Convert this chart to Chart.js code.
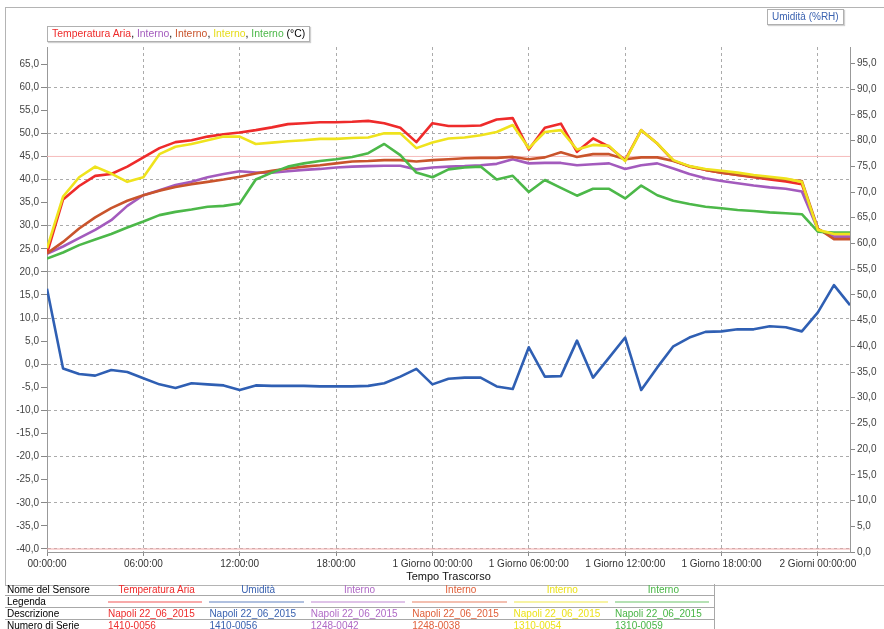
<!DOCTYPE html>
<html>
<head>
<meta charset="utf-8">
<script src="https://cdn.jsdelivr.net/npm/chart.js@4"></script>
<style>
  body { margin: 0; background: #fff; font-family: "Liberation Sans", Arial, sans-serif; }
  #wrap { position: relative; width: 884px; height: 629px; overflow: hidden; }
  #frame { position: absolute; left: 5px; top: 7px; width: 884px; height: 577px; border: 1px solid #b4b4b4; }
  #chart { position: absolute; left: 0; top: 0; }
  .box { position: absolute; background: #fff; border: 1px solid #b0b0b0; box-shadow: 1px 1px 1px #d0d0d0;
         font-size: 10px; line-height: 14px; padding: 0 4px; white-space: nowrap; }
  #info { position: absolute; left: 5px; top: 584px; border-collapse: collapse; font-size: 10px; }
  #info td { height: 11px; padding: 0 2px; border-bottom: 1px solid #a8a8a8; line-height: 11px; white-space: nowrap; }
  #info td.c { text-align: center; }
  #info tr td:last-child { border-right: 1px solid #a8a8a8; }
  .swatch { height: 2px; margin: 0 3px 0 0; opacity: 0.4; }
</style>
</head>
<body>
<div id="wrap">
  <div id="frame"></div>
  <canvas id="chart" width="884" height="585"></canvas>
  <div class="box" id="tempLegend" style="left:47px; top:26px; font-size:10.4px;"></div>
  <div class="box" style="left:767px; top:9px; color:#3a62b0;">Umidità (%RH)</div>
  <table id="info"></table>
</div>
<script>
// elapsed time in hours, one reading per hour
let hours = [0,1,2,3,4,5,6,7,8,9,10,11,12,13,14,15,16,17,18,19,20,21,22,23,24,
             25,26,27,28,29,30,31,32,33,34,35,36,37,38,39,40,41,42,43,44,45,46,47,48,49,50]

// temperatures (°C)
let tempAria = [24.0,35.7,38.6,40.8,41.2,42.8,44.8,46.8,48.1,48.5,
                49.3,49.8,50.2,50.7,51.3,52.0,52.2,52.4,52.4,52.5,
                52.7,52.2,51.2,48.1,52.2,51.6,51.6,51.7,53.0,53.3,
                46.5,51.2,52.1,46.0,48.9,47.1,44.2,50.7,47.8,44.1,
                42.8,42.1,41.5,41.0,40.5,40.0,39.6,39.0,29.2,27.6,27.6]
let interno0042 = [23.9,25.5,27.3,29.1,31.2,34.3,36.6,37.7,38.8,39.5,
                   40.5,41.2,41.8,41.5,41.5,41.8,42.1,42.3,42.6,42.8,
                   42.9,43.0,43.0,42.2,42.6,42.8,42.9,43.1,43.4,44.4,
                   43.5,43.6,43.6,43.1,43.3,43.5,42.3,43.1,43.5,42.4,
                   41.2,40.3,39.7,39.2,38.7,38.3,38.0,37.4,29.2,27.6,27.6]
let interno0038 = [24.0,26.5,29.4,31.8,33.8,35.4,36.6,37.6,38.4,39.0,
                   39.5,40.0,40.6,41.3,41.9,42.4,42.8,43.1,43.5,43.9,
                   44.0,44.2,44.2,43.9,44.2,44.4,44.6,44.7,44.7,44.9,
                   44.4,44.8,45.9,44.9,45.5,45.5,44.4,44.8,44.8,44.0,
                   42.9,42.1,41.5,41.0,40.6,40.3,40.0,39.7,29.4,27.1,27.1]
let interno0054 = [25.1,36.3,40.5,42.8,41.3,39.5,40.5,45.5,47.1,47.7,
                   48.5,49.3,49.3,47.7,48.0,48.3,48.5,48.8,48.8,49.0,
                   49.1,50.0,50.0,46.8,48.0,48.9,49.1,49.6,50.3,51.8,
                   46.8,50.3,50.7,46.5,47.5,47.3,44.0,50.7,47.8,44.2,
                   42.9,42.3,41.9,41.5,41.0,40.6,40.2,39.5,29.1,28.2,28.2]
let interno0059 = [22.9,24.2,25.8,27.0,28.2,29.6,30.9,32.3,33.0,33.5,
                   34.1,34.3,34.8,40.0,41.5,42.8,43.5,44.0,44.4,44.9,
                   45.7,47.7,45.3,41.5,40.5,42.2,42.6,42.8,40.0,40.8,
                   37.3,39.9,38.2,36.5,38.0,38.0,35.9,38.7,36.6,35.4,
                   34.7,34.1,33.8,33.4,33.2,32.9,32.7,32.5,28.7,28.5,28.5]

// relative humidity (%RH), right axis
let umidita = [51.2,35.7,34.6,34.3,35.4,35.0,33.8,32.6,31.9,32.8,
               32.6,32.4,31.5,32.4,32.3,32.3,32.3,32.2,32.2,32.2,
               32.3,32.8,34.1,35.6,32.6,33.7,33.9,33.9,32.2,31.7,
               39.8,34.1,34.2,41.1,33.9,37.8,41.7,31.5,35.9,40.0,
               41.7,42.8,42.9,43.3,43.3,43.9,43.7,42.9,46.6,51.9,48.0]

// alarm limits (°C)
let limitHigh = 45
let limitLow = -40

// x axis ticks
let xTickHours = [0, 6, 12, 18, 24, 30, 36, 42, 48]
let xTickLabels = ['00:00:00', '06:00:00', '12:00:00', '18:00:00', '1 Giorno 00:00:00',
                   '1 Giorno 06:00:00', '1 Giorno 12:00:00', '1 Giorno 18:00:00', '2 Giorni 00:00:00']

// sensor table below the chart
let sensorNames = ['Temperatura Aria', 'Umidità', 'Interno', 'Interno', 'Interno', 'Interno']
let descriptions = ['Napoli 22_06_2015', 'Napoli 22_06_2015', 'Napoli 22_06_2015',
                    'Napoli 22_06_2015', 'Napoli 22_06_2015', 'Napoli 22_06_2015']
let serials = ['1410-0056', '1410-0056', '1248-0042', '1248-0038', '1310-0054', '1310-0059']
let sensorColors = ['#ee2b2b', '#3a62b0', '#b06ac6', '#e0603a', '#ece21c', '#47b544']

Chart.defaults.font.family = '"Liberation Sans", Arial, sans-serif'
Chart.defaults.font.size = 10

// turn a series into {x, y} points
function points(ys) {
    return ys.map((y, i) => ({x: hours[i], y: y}))
}
function flat(v) {
    return [{x: hours[0], y: v}, {x: hours[hours.length - 1], y: v}]
}
function fmt(v) {
    return v.toFixed(1).replace('.', ',')
}
function everyFive(scale) {
    let ticks = []
    for (let v = Math.ceil(scale.min / 5) * 5; v <= scale.max; v += 5) ticks.push({value: v})
    scale.ticks = ticks
}

let line = (label, data, color, axis) => ({
    label: label, data: data, yAxisID: axis, borderColor: color,
    borderWidth: 2.6, pointRadius: 0, tension: 0, borderJoinStyle: 'round', fill: false
})

let chart = new Chart(document.getElementById('chart'), {
    type: 'line',
    data: {
        datasets: [
            line('Interno 1310-0054', points(interno0054), '#efe31d', 'y'),
            line('Interno 1310-0059', points(interno0059), '#4cb849', 'y'),
            line('Interno 1248-0038', points(interno0038), '#c9542c', 'y'),
            line('Interno 1248-0042', points(interno0042), '#a35bbd', 'y'),
            line('Temperatura Aria', points(tempAria), '#ee2b2b', 'y'),
            line('Umidità', points(umidita), '#2f5fb3', 'y2'),
            {data: flat(limitHigh), yAxisID: 'y', borderColor: '#f6bcbc', borderWidth: 1, pointRadius: 0},
            {data: flat(limitLow), yAxisID: 'y', borderColor: '#f2a8a8', borderWidth: 1, pointRadius: 0}
        ]
    },
    options: {
        responsive: false,
        animation: false,
        layout: {padding: {left: 5, top: 47, right: 0, bottom: 1}},
        plugins: {legend: {display: false}, tooltip: {enabled: false}},
        scales: {
            x: {
                type: 'linear', min: 0, max: 50,
                afterBuildTicks: s => { s.ticks = xTickHours.map(v => ({value: v})) },
                afterFit: s => { s.height = 32 },
                ticks: {
                    autoSkip: false, maxRotation: 0, padding: 2, color: '#333',
                    callback: v => xTickLabels[xTickHours.indexOf(v)]
                },
                grid: {color: '#ababab', tickLength: 4, tickColor: '#888'},
                border: {color: '#999', dash: [3, 3]},
                title: {display: true, text: 'Tempo Trascorso', color: '#111', font: {size: 11}, padding: 0}
            },
            y: {
                position: 'left', min: -40.65, max: 68.7,
                afterBuildTicks: everyFive,
                afterFit: s => { s.width = 42 },
                ticks: {color: '#444', padding: 2, callback: v => fmt(v)},
                grid: {
                    color: c => (c.tick && Math.round(c.tick.value) % 10 === 0) ? '#ababab' : 'rgba(0,0,0,0)',
                    tickColor: '#888', tickLength: 6
                },
                border: {color: '#999', dash: [3, 3]}
            },
            y2: {
                position: 'right', min: 0, max: 98.2,
                afterBuildTicks: everyFive,
                afterFit: s => { s.width = 34 },
                ticks: {color: '#444', padding: 2, callback: v => fmt(v)},
                grid: {drawOnChartArea: false, tickColor: '#888', tickLength: 5},
                border: {color: '#999'}
            }
        }
    }
})

// legend box for the temperature axis
let legendParts = [['Temperatura Aria', '#ee2b2b'], ['Interno', '#a35bbd'], ['Interno', '#c9542c'],
                   ['Interno', '#e6dc1a'], ['Interno', '#4cb849']]
document.getElementById('tempLegend').innerHTML =
    legendParts.map(p => `<span style="color:${p[1]}">${p[0]}</span>`).join(', ') + ' (°C)'

// sensor table
let colW = 101.4
let rows = [
    ['Nome del Sensore', sensorNames.map((n, i) => `<td class="c" style="color:${sensorColors[i]}">${n}</td>`)],
    ['Legenda', sensorColors.map(c => `<td><div class="swatch" style="background:${c}"></div></td>`)],
    ['Descrizione', descriptions.map((d, i) => `<td style="color:${sensorColors[i]}">${d}</td>`)],
    ['Numero di Serie', serials.map((s, i) => `<td style="color:${sensorColors[i]}">${s}</td>`)]
]
let html = `<colgroup><col style="width:101px">` + sensorNames.map(() => `<col style="width:${colW}px">`).join('') + `</colgroup>`
rows.forEach(r => { html += `<tr><td>${r[0]}</td>${r[1].join('')}</tr>` })
let info = document.getElementById('info')
info.innerHTML = html
info.style.width = (101 + colW * 6) + 'px'
info.style.tableLayout = 'fixed'
</script>
</body>
</html>
